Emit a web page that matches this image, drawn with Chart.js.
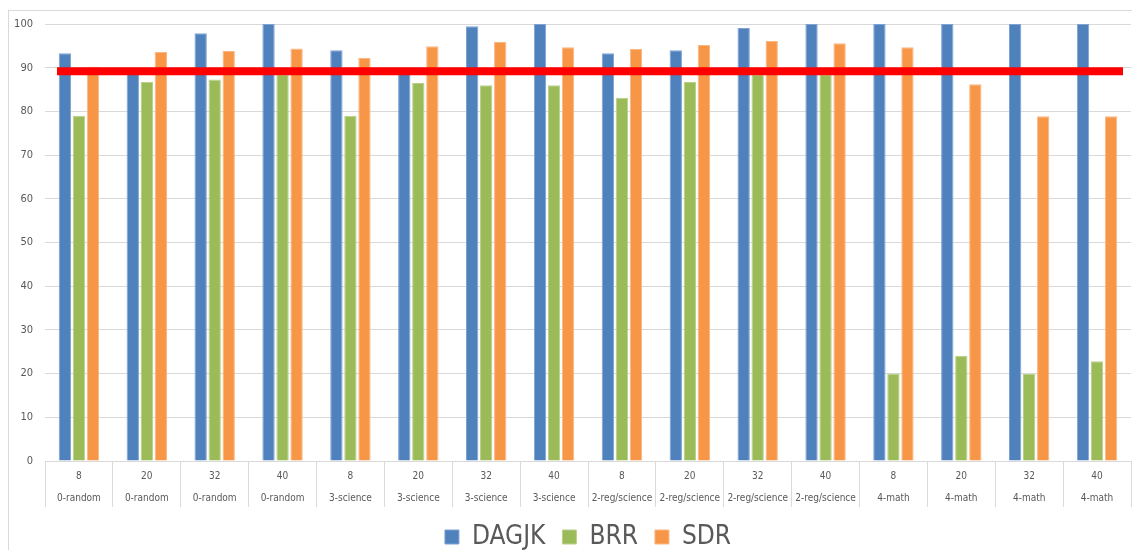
<!DOCTYPE html>
<html>
<head>
<meta charset="utf-8">
<script src="https://cdn.jsdelivr.net/npm/chart.js@4/dist/chart.umd.min.js"></script>
<style>
  html, body { margin: 0; padding: 0; background: #ffffff; }
  #wrap { position: relative; width: 1132px; height: 550px; }
</style>
</head>
<body>
<div id="wrap"><canvas id="chart" width="1132" height="550"></canvas></div>
<script>
// Sample sizes and scenario names for each bar group
const sizes = ['8', '20', '32', '40', '8', '20', '32', '40', '8', '20', '32', '40', '8', '20', '32', '40'];
const scenarios = ['0-random', '0-random', '0-random', '0-random',
                   '3-science', '3-science', '3-science', '3-science',
                   '2-reg/science', '2-reg/science', '2-reg/science', '2-reg/science',
                   '4-math', '4-math', '4-math', '4-math'];

// Coverage (%) for each method
const dagjk = [93.3, 89.0, 97.9, 100, 94.0, 89.0, 99.5, 100, 93.3, 94.0, 99.1, 100, 100, 100, 100, 100];
const brr   = [79.0, 86.7, 87.3, 88.5, 79.0, 86.5, 86.0, 86.0, 83.1, 86.7, 88.5, 88.5, 20.0, 24.1, 19.9, 22.8];
const sdr   = [90.2, 93.6, 93.8, 94.4, 92.2, 94.9, 95.9, 94.7, 94.3, 95.2, 96.1, 95.6, 94.7, 86.2, 78.9, 78.9];

// Target level marked across the plot
const targetLevel = 89.2;

const yTicks = { min: 0, max: 100, step: 10 };

const labels = sizes.map((s, i) => [s, scenarios[i]]);

const FONT = '"Liberation Sans Narrow", "DejaVu Sans Condensed", "Open Sans", sans-serif';
const GRID = '#D9D9D9';
const TEXT = '#595959';

// Light frame around the whole figure
const framePlugin = {
  id: 'frame',
  beforeDraw(chart) {
    const ctx = chart.ctx;
    ctx.save();
    ctx.fillStyle = '#ffffff';
    ctx.fillRect(0, 0, chart.width, chart.height);
    ctx.strokeStyle = GRID;
    ctx.lineWidth = 1;
    ctx.strokeRect(8.5, 10.5, chart.width + 20, chart.height + 20);
    ctx.restore();
  }
};

// Thick red target line drawn over the bars
const targetPlugin = {
  id: 'targetLine',
  afterDatasetsDraw(chart) {
    const { ctx, chartArea, scales } = chart;
    const y = scales.y.getPixelForValue(targetLevel);
    ctx.save();
    ctx.strokeStyle = '#FF0000';
    ctx.lineWidth = 8;
    ctx.beginPath();
    ctx.moveTo(chartArea.left + 12, y);
    ctx.lineTo(chartArea.right - 8, y);
    ctx.stroke();
    ctx.restore();
  }
};

function series(label, data, fill, edge) {
  return {
    label, data,
    backgroundColor: fill,
    borderColor: edge,
    borderWidth: 1,
    categoryPercentage: 0.62,
    barPercentage: 0.88
  };
}

new Chart(document.getElementById('chart'), {
  type: 'bar',
  data: {
    labels,
    datasets: [
      series('DAGJK', dagjk, '#4F81BD', '#7EA3D2'),
      series('BRR', brr, '#9BBB59', '#B9D08A'),
      series('SDR', sdr, '#F79646', '#F9B785')
    ]
  },
  options: {
    responsive: false,
    animation: false,
    layout: { padding: { left: 0, right: 1, top: 24, bottom: -10 } },
    plugins: {
      legend: {
        position: 'bottom',
        fullSize: false,
        labels: {
          font: { family: FONT, size: 26 },
          color: TEXT,
          boxWidth: 14,
          boxHeight: 14,
          padding: 17
        }
      },
      tooltip: { enabled: false }
    },
    scales: {
      x: {
        grid: {
          display: true,
          drawOnChartArea: false,
          drawTicks: true,
          tickLength: 46,
          color: GRID,
          offset: true
        },
        border: { display: true, color: GRID },
        ticks: {
          font: { family: FONT, size: 10, lineHeight: 2.2 },
          color: TEXT,
          padding: -41.5,
          maxRotation: 0,
          autoSkip: false
        },
        afterFit(scale) { scale.height = 46; }
      },
      y: {
        min: yTicks.min,
        max: yTicks.max,
        grid: { color: GRID, drawTicks: false },
        border: { display: false },
        ticks: {
          stepSize: yTicks.step,
          font: { family: FONT, size: 11 },
          color: TEXT,
          padding: 12
        },
        afterFit(scale) { scale.width = 45; }
      }
    }
  },
  plugins: [framePlugin, targetPlugin]
});
</script>
</body>
</html>
